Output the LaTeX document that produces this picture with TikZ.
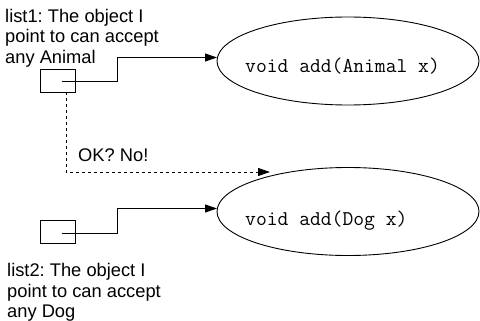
\documentclass[tikz,border=0pt]{standalone}
\usepackage{fontspec}
\setmainfont{Liberation Sans}
\usetikzlibrary{shapes.geometric,arrows.meta}
\frenchspacing
\begin{document}
\begin{tikzpicture}[x=1pt,y=-1pt,
  lbl/.style={font=\fontsize{18.3}{20.5}\selectfont, align=left, inner sep=0pt, anchor=north west},
  meth/.style={draw, line width=0.9pt, ellipse, minimum width=262pt, minimum height=88pt, inner sep=0pt},
  code/.style={font=\ttfamily\fontsize{21}{23}\selectfont, inner sep=0pt, anchor=base west},
  ref/.style={draw, line width=0.9pt, minimum width=35pt, minimum height=23pt, inner sep=0pt},
  conn/.style={draw, line width=1pt, -{Triangle[length=12pt,width=8pt]}}]
\useasboundingbox (0,0) rectangle (480,321);
\node[meth] (e1) at (348,61) {};
\node[meth] (e2) at (348,211.5) {};
\node[code] (t1) at (245,73) {void add(Animal x)};
\node[code] (t2) at (245,225) {void add(Dog x)};
\node[ref] (b1) at (57.5,80.5) {};
\node[ref] (b2) at (57.5,231.5) {};
\coordinate (s1) at (62,82);
\coordinate (s2) at (62,233);
\coordinate (d1) at (66,92);
\coordinate (a1) at (217,57.5);
\coordinate (a2) at (217,208.5);
\coordinate (a3) at (270,172);
\draw[conn] (s1) -- (117,82) -- (117,57.5) -- (a1);
\draw[conn] (s2) -- (117,233) -- (117,208.5) -- (a2);
\draw[conn, dashed] (d1) -- (66,172) -- (a3);
\node[lbl] (l1) at (5,9) {list1: The object I\\point to can accept\\any Animal};
\node[lbl] (l2) at (7,263.5) {list2: The object I\\point to can accept\\any Dog};
\node[font=\fontsize{18.3}{20.5}\selectfont, inner sep=0pt, anchor=base west] (ok) at (78,161) {OK? No!};
\end{tikzpicture}
\end{document}
